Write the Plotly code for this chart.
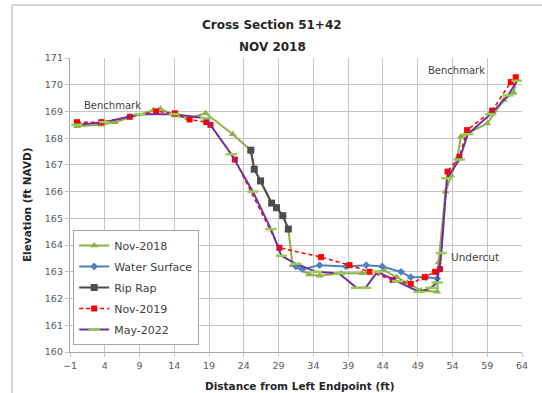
import plotly.graph_objects as go

# Survey series: distance from left endpoint (ft) and elevation (ft NAVD)
nov2018_x = [0, 3.5, 5.5, 11, 12, 14, 16, 18.5, 22.4, 25.0, 25.5, 26.4, 28.0, 28.7, 29.6, 30.4,
             31.0, 33.4, 34.9, 38.0, 41.0, 44.2, 46.0, 47.5, 49.5, 51.8, 52.0, 53.0, 53.8,
             54.7, 55.2, 59.0, 61.4, 62.8, 63.2]
nov2018_y = [168.45, 168.5, 168.6, 169.05, 169.1, 168.85, 168.75, 168.93, 168.15, 167.55, 166.84,
             166.4, 165.57, 165.4, 165.1, 164.6, 163.25, 162.9, 162.85, 162.95, 162.95, 163.05,
             162.8, 162.6, 162.3, 162.25, 163.35, 166.0, 166.6, 167.25, 168.05, 168.55, 169.43,
             169.7, 170.2]

water_x = [31.5, 32.4, 34.9, 38.7, 41.6, 43.9, 46.6, 48.0, 50.2, 51.8]
water_y = [163.2, 163.1, 163.25, 163.2, 163.25, 163.2, 163.0, 162.8, 162.8, 162.75]

riprap_x = [25.0, 25.5, 26.4, 28.0, 28.7, 29.6, 30.4]
riprap_y = [167.55, 166.84, 166.4, 165.57, 165.4, 165.1, 164.6]

nov2019_x = [0, 3.5, 7.6, 11.4, 14.1, 16.2, 18.6, 19.2, 22.7, 29.1, 35.1, 39.2, 42.1, 45.4,
             48.0, 50.0, 51.5, 52.2, 53.3, 55.0, 56.1, 59.7, 62.4, 63.1]
nov2019_y = [168.6, 168.6, 168.8, 169.0, 168.93, 168.7, 168.6, 168.5, 167.2, 163.9, 163.55,
             163.25, 163.0, 162.7, 162.55, 162.8, 163.0, 163.1, 166.75, 167.3, 168.3, 169.03,
             170.1, 170.28]

may2022_x = [0, 4, 9, 14, 18.5, 22.2, 25.3, 27.9, 29.4, 31.5, 34.4, 37.7, 40.2, 41.5, 43.2,
             46.1, 49.2, 50.9, 51.8, 52.4, 53.2, 55.0, 56.2, 59.5, 62.0, 63.3]
may2022_y = [168.5, 168.6, 168.9, 168.9, 168.75, 167.4, 166.0, 164.6, 163.6, 163.3, 163.0,
             162.94, 162.4, 162.4, 163.0, 162.65, 162.25, 162.4, 162.6, 163.7, 166.5, 167.2,
             168.15, 168.9, 169.6, 170.15]

x_ticks = list(range(-1, 65, 5))
y_ticks = list(range(160, 172))

FONT = "DejaVu Sans, Verdana, sans-serif"
TEXT = "#404040"
TICK = "#595959"
GRID = "#c4c4c4"

fig = go.Figure()

fig.add_trace(go.Scatter(
    x=nov2018_x, y=nov2018_y, name="Nov-2018", mode="lines+markers",
    line=dict(color="#8DB048", width=2),
    marker=dict(symbol="triangle-up", size=7, color="#8DB048"),
    legendgroup="a"))
fig.add_trace(go.Scatter(
    x=water_x, y=water_y, name="Water Surface", mode="lines+markers",
    line=dict(color="#4F81BD", width=2),
    marker=dict(symbol="diamond", size=6, color="#4F81BD"),
    legendgroup="b"))
fig.add_trace(go.Scatter(
    x=riprap_x, y=riprap_y, name="Rip Rap", mode="lines+markers",
    line=dict(color="#4D4D4D", width=2),
    marker=dict(symbol="square", size=7, color="#4D4D4D"),
    legendgroup="c"))
fig.add_trace(go.Scatter(
    x=nov2019_x, y=nov2019_y, name="Nov-2019", mode="lines+markers",
    line=dict(color="#FF0000", width=1.5, dash="4px,3px"),
    marker=dict(symbol="square", size=6, color="#FF0000"),
    legendgroup="d"))
fig.add_trace(go.Scatter(
    x=may2022_x, y=may2022_y, name="May-2022", mode="lines+markers",
    line=dict(color="#7030A0", width=2),
    marker=dict(symbol="line-ew", size=8, color="#92D050",
                line=dict(color="#92D050", width=2.5)),
    legendgroup="e"))

annotations = [
    dict(text="<b>Cross Section 51+42</b>", x=0.447, y=1.112, font=dict(size=12, color="#262626")),
    dict(text="<b>NOV 2018</b>", x=0.447, y=1.037, font=dict(size=12, color="#262626")),
    dict(text="<b>Elevation (ft NAVD)</b>", x=-0.095, y=0.5, textangle=-90,
         font=dict(size=10.5, color="#262626")),
    dict(text="<b>Distance from Left Endpoint (ft)</b>", x=0.509, y=-0.116,
         font=dict(size=10.5, color="#262626")),
    dict(text="Benchmark", x=0.093, y=0.84, font=dict(size=10, color=TEXT)),
    dict(text="Benchmark", x=0.854, y=0.959, font=dict(size=10, color=TEXT)),
    dict(text="Undercut", x=0.896, y=0.323, font=dict(size=10.5, color=TEXT)),
]
for a in annotations:
    a.update(xref="paper", yref="paper", showarrow=False, xanchor="center", yanchor="middle")
    a["font"]["family"] = FONT

fig.update_layout(
    width=542, height=393,
    margin=dict(l=70, r=20, t=58, b=41),
    paper_bgcolor="white", plot_bgcolor="white",
    font=dict(family=FONT, size=10, color=TEXT),
    showlegend=True,
    legend=dict(x=0.007, y=0.415, xanchor="left", yanchor="top",
                bgcolor="white", bordercolor="#a6a6a6", borderwidth=1,
                font=dict(size=11, color=TEXT, family=FONT),
                traceorder="grouped", tracegroupgap=2, itemwidth=30),
    annotations=annotations,
    shapes=[
        dict(type="line", xref="paper", yref="paper", x0=-0.128, x1=-0.128, y0=1.180, y1=-0.14,
             line=dict(color="#c8c8c8", width=1.5)),
        dict(type="line", xref="paper", yref="paper", x0=-0.128, x1=1.05, y0=1.180, y1=1.180,
             line=dict(color="#c8c8c8", width=1.5)),
    ],
)

fig.update_xaxes(range=[-1, 64], tickvals=x_ticks, showgrid=True, gridcolor=GRID, gridwidth=1.3,
                 showline=True, linecolor="#a6a6a6", linewidth=1.3, mirror=False,
                 ticks="outside", ticklen=4, tickcolor=GRID, zeroline=False,
                 tickfont=dict(size=9.5, color=TICK))
fig.update_yaxes(range=[160, 171], tickvals=y_ticks, showgrid=True, gridcolor=GRID, gridwidth=1.3,
                 showline=True, linecolor="#a6a6a6", linewidth=1.3,
                 ticks="outside", ticklen=4, tickcolor=GRID, zeroline=False,
                 tickfont=dict(size=9.5, color=TICK))

fig.write_html("out.html")
